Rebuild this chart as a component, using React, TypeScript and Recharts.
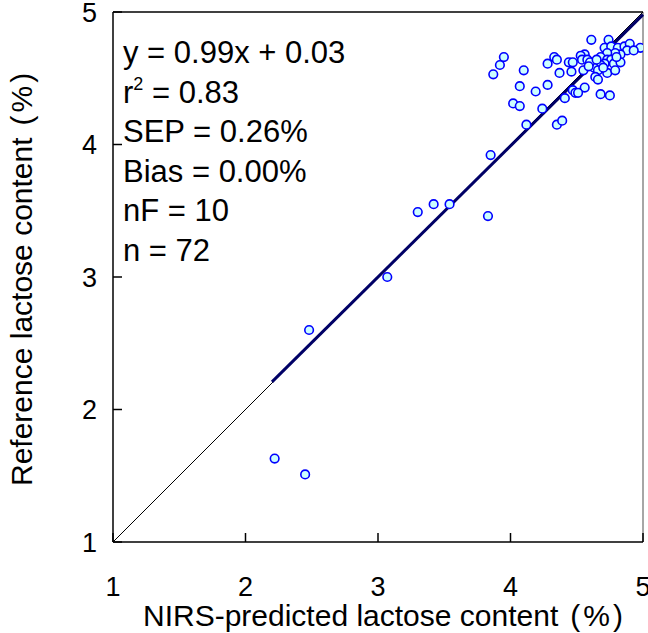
import React from 'react';
import { ScatterChart, Scatter, XAxis, YAxis, ReferenceLine } from 'recharts';

// NIRS-predicted (x) vs reference (y) lactose content, %
const predicted = [
  2.22, 2.45, 2.48, 3.07, 3.30, 3.42, 3.54, 3.83, 3.85,
  3.87, 3.92, 3.95, 4.10, 4.07, 4.02, 4.07, 4.19, 4.28, 4.24,
  4.12, 4.28, 4.33, 4.35, 4.37, 4.35, 4.39, 4.41, 4.44, 4.46,
  4.47, 4.61, 4.74, 4.71, 4.76, 4.81, 4.86, 4.90, 4.98, 4.88,
  4.83, 4.79, 4.73, 4.56, 4.53, 4.54, 4.58, 4.68, 4.73, 4.76,
  4.71, 4.78, 4.68, 4.63, 4.55, 4.66, 4.73, 4.79, 4.64, 4.66,
  4.56, 4.47, 4.49, 4.68, 4.75, 4.51, 4.60, 4.65, 4.83, 4.59,
  4.70, 4.80, 4.93,
];
const reference = [
  1.63, 1.51, 2.60, 3.00, 3.49, 3.55, 3.55, 3.46, 3.92,
  4.53, 4.60, 4.66, 4.56, 4.44, 4.31, 4.29, 4.40, 4.45, 4.27,
  4.15, 4.61, 4.66, 4.64, 4.54, 4.15, 4.18, 4.35, 4.62, 4.55,
  4.62, 4.79, 4.79, 4.73, 4.74, 4.73, 4.74, 4.76, 4.73, 4.71,
  4.68, 4.69, 4.69, 4.68, 4.67, 4.64, 4.64, 4.66, 4.64, 4.64,
  4.61, 4.61, 4.60, 4.58, 4.56, 4.56, 4.54, 4.56, 4.51, 4.49,
  4.43, 4.41, 4.39, 4.38, 4.37, 4.39, 4.62, 4.64, 4.62, 4.59,
  4.58, 4.66, 4.71,
];
const axisTicks = [1, 2, 3, 4, 5];

const slope = 0.99;
const intercept = 0.03;
const fitFrom = 2.2;
const fitTo = 5;

const statLines = ['y = 0.99x + 0.03', 'r2 = 0.83', 'SEP = 0.26%', 'Bias = 0.00%', 'nF = 10', 'n = 72'];

const xTitle = 'NIRS-predicted lactose content';
const yTitle = 'Reference lactose content';

const FONT = "'Liberation Sans', Arial, sans-serif";

const points = predicted.map((x, i) => ({ x, y: reference[i] }));

const XTick = (props: any) => {
  const { x, y, payload } = props;
  return (
    <g>
      <line x1={x} y1={y} x2={x} y2={y - 9} stroke="#000" strokeWidth={1.5} />
      <text x={x} y={y + 54} textAnchor="middle" fontSize={27} fontFamily={FONT} fill="#000">
        {payload.value}
      </text>
    </g>
  );
};

const YTick = (props: any) => {
  const { x, y, payload } = props;
  return (
    <g>
      <line x1={x} y1={y} x2={x + 9} y2={y} stroke="#000" strokeWidth={1.5} />
      <text x={x - 16} y={y + 9.5} textAnchor="end" fontSize={27} fontFamily={FONT} fill="#000">
        {payload.value}
      </text>
    </g>
  );
};

const Dot = (props: any) => (
  <circle cx={props.cx} cy={props.cy} r={4.3} fill="#ccffff" stroke="#0000ff" strokeWidth={1.6} />
);

const Unit = () => (
  <>
    <tspan dx={12}>(</tspan>
    <tspan dx={3}>%</tspan>
    <tspan dx={3}>)</tspan>
  </>
);

const XTitle = (props: any) => (
  <text x={143} y={626} fontSize={30} fontFamily={FONT} fill="#000">
    {xTitle}
    <Unit />
  </text>
);

const YTitle = (props: any) => (
  <text x={32} y={486} transform="rotate(-90 32 486)" fontSize={30} fontFamily={FONT} fill="#000">
    {yTitle}
    <Unit />
  </text>
);

export default function App() {
  return (
    <div style={{ position: 'absolute', left: 0, top: 0, background: '#fff' }}>
      <ScatterChart width={648} height={633} margin={{ top: 12, right: 5, left: 0, bottom: 0 }}>
        <XAxis
          type="number"
          dataKey="x"
          domain={[1, 5]}
          ticks={axisTicks}
          allowDataOverflow
          height={91}
          tickSize={0}
          tickMargin={0}
          tickLine={false}
          tick={<XTick />}
          axisLine={{ stroke: '#000', strokeWidth: 1.5 }}
          label={<XTitle />}
        />
        <YAxis
          type="number"
          dataKey="y"
          domain={[1, 5]}
          ticks={axisTicks}
          allowDataOverflow
          width={113}
          tickSize={0}
          tickMargin={0}
          tickLine={false}
          tick={<YTick />}
          axisLine={{ stroke: '#000', strokeWidth: 1.5 }}
          label={<YTitle />}
        />
        <ReferenceLine y={5} stroke="#000" strokeWidth={1.5} />
        <ReferenceLine x={5} stroke="#888" strokeWidth={1.5} />
        <ReferenceLine
          segment={[{ x: 1, y: 1 }, { x: 5, y: 5 }]}
          stroke="#000"
          strokeWidth={1}
        />
        <Scatter data={points} shape={<Dot />} isAnimationActive={false} />
        <ReferenceLine
          segment={[
            { x: fitFrom, y: slope * fitFrom + intercept },
            { x: fitTo, y: slope * fitTo + intercept },
          ]}
          stroke="#000066"
          strokeWidth={3}
        />
        <g fontFamily={FONT} fontSize={31} fill="#000">
          {statLines.map((line, i) => {
            const y = 63 + i * 39.5;
            if (line.startsWith('r2')) {
              return (
                <text key={line} x={123} y={y}>
                  r<tspan dy={-13} fontSize={18}>2</tspan>
                  <tspan dy={13}>{line.slice(2)}</tspan>
                </text>
              );
            }
            return (
              <text key={line} x={123} y={y}>
                {line}
              </text>
            );
          })}
        </g>
      </ScatterChart>
    </div>
  );
}
